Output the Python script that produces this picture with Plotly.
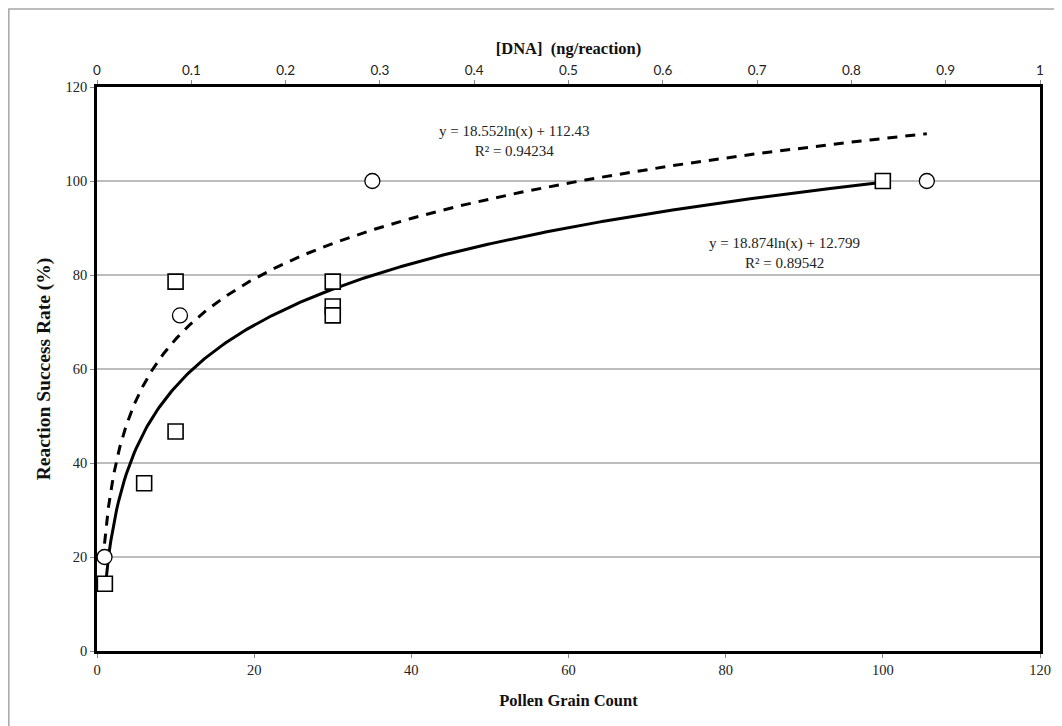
import numpy as np
import plotly.graph_objects as go

# ---- data ----
pollen_x = [1, 6, 10, 10, 30, 30, 30, 100]
pollen_y = [14.3, 35.7, 46.7, 78.6, 78.6, 73.3, 71.4, 100]

dna_x = [0.008, 0.088, 0.292, 0.88]
dna_y = [20, 71.4, 100, 100]

# trendline coefficients (y = a*ln(x) + b)
pollen_fit = (18.874, 12.799)
pollen_r2 = "0.89542"
dna_fit = (18.552, 112.43)
dna_r2 = "0.94234"

bottom_ticks = [0, 20, 40, 60, 80, 100, 120]
top_ticks = [0, 0.1, 0.2, 0.3, 0.4, 0.5, 0.6, 0.7, 0.8, 0.9, 1]
y_ticks = [0, 20, 40, 60, 80, 100, 120]

SERIF = "Liberation Serif, Times New Roman, serif"
SANS = "Lato, Liberation Sans, sans-serif"

fig = go.Figure()

# trendlines
xp = np.linspace(min(pollen_x), max(pollen_x), 400)
fig.add_trace(go.Scatter(x=xp, y=pollen_fit[0] * np.log(xp) + pollen_fit[1],
                         mode="lines", line=dict(color="black", width=3),
                         xaxis="x", yaxis="y", showlegend=False, hoverinfo="skip"))
xd = np.geomspace(min(dna_x), max(dna_x), 400)
fig.add_trace(go.Scatter(x=xd, y=dna_fit[0] * np.log(xd) + dna_fit[1],
                         mode="lines", line=dict(color="black", width=3, dash="10px,8px"),
                         xaxis="x2", yaxis="y", showlegend=False, hoverinfo="skip"))

# markers
fig.add_trace(go.Scatter(x=pollen_x, y=pollen_y, mode="markers",
                         marker=dict(symbol="square", size=15, color="white",
                                     line=dict(color="black", width=1.6)),
                         xaxis="x", yaxis="y", showlegend=False))
fig.add_trace(go.Scatter(x=dna_x, y=dna_y, mode="markers",
                         marker=dict(symbol="circle", size=15, color="white",
                                     line=dict(color="black", width=1.3)),
                         xaxis="x2", yaxis="y", showlegend=False))

fig.update_layout(
    width=1054, height=718,
    margin=dict(l=89, r=22, t=79, b=75),
    paper_bgcolor="white", plot_bgcolor="white",
    xaxis=dict(range=[0, 120], tickvals=bottom_ticks, showgrid=False, zeroline=False,
               showline=True, linecolor="black", linewidth=2.5,
               ticks="outside", ticklen=4, tickcolor="#888888",
               tickfont=dict(family=SERIF, size=14.5, color="#222"),
               title=dict(text="<b>Pollen Grain Count</b>",
                          font=dict(family=SERIF, size=16.5, color="#111"), standoff=18)),
    xaxis2=dict(range=[0, 1], tickvals=top_ticks, overlaying="x", side="top",
                showgrid=False, zeroline=False,
                showline=True, linecolor="black", linewidth=2.5,
                ticks="outside", ticklen=4, tickcolor="#888888",
                tickfont=dict(family=SANS, size=13.5, color="#222"),
                title=dict(text="<b>[DNA]  (ng/reaction)</b>",
                           font=dict(family=SERIF, size=16.5, color="#111"), standoff=4)),
    yaxis=dict(range=[0, 120], tickvals=y_ticks, showgrid=True, gridcolor="#bdbdbd",
               gridwidth=1.5, zeroline=False,
               showline=True, linecolor="black", linewidth=2.5, mirror=True,
               ticks="outside", ticklen=4, tickcolor="#888888",
               tickfont=dict(family=SERIF, size=14.5, color="#222"),
               title=dict(text="<b>Reaction Success Rate (%)</b>",
                          font=dict(family=SERIF, size=19.5, color="#111"), standoff=10)),
    annotations=[
        dict(xref="x2", yref="y", x=0.443, y=108.5,
             text=f"y = {dna_fit[0]}ln(x) + {dna_fit[1]}<br>R² = {dna_r2}",
             showarrow=False, font=dict(family=SERIF, size=15, color="#222")),
        dict(xref="x", yref="y", x=87.5, y=84.6,
             text=f"y = {pollen_fit[0]}ln(x) + {pollen_fit[1]}<br>R² = {pollen_r2}",
             showarrow=False, font=dict(family=SERIF, size=15, color="#222")),
    ],
    shapes=[
        dict(type="rect", xref="paper", yref="paper",
             x0=-0.0935, x1=1.05, y0=-0.2, y1=1.1385,
             line=dict(color="#a6a6a6", width=1.5), layer="below"),
    ],
)

fig.write_html("out.html")
